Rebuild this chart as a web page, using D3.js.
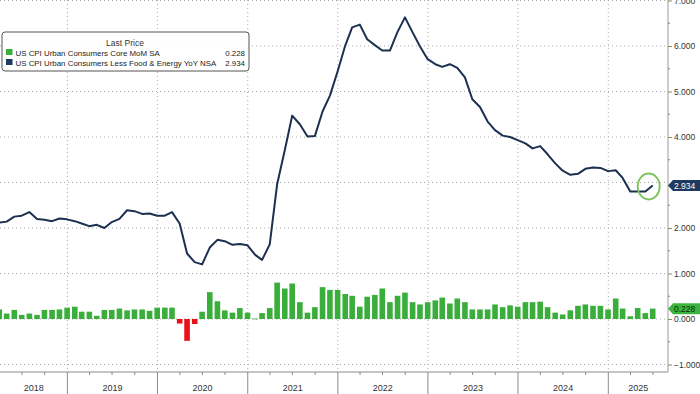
<!DOCTYPE html>
<html><head><meta charset="utf-8">
<script src="https://cdn.jsdelivr.net/npm/d3@7"></script>
<style>
body{margin:0;background:#fff}
svg{display:block;font-family:"Liberation Sans",Arial,sans-serif}
</style>
</head><body>
<svg id="chart" width="700" height="394"></svg>
<script>
// ---------- DATA ----------
const startMonth = "2018-01"; // monthly observations, plotted at month end
const coreYoY = [
  1.78, 1.83, 2.12, 2.14, 2.25, 2.27, 2.35, 2.20, 2.18, 2.15, 2.21, 2.19,
  2.15, 2.10, 2.04, 2.07, 2.00, 2.13, 2.20, 2.39, 2.37, 2.31, 2.32, 2.27,
  2.27, 2.35, 2.10, 1.44, 1.25, 1.20, 1.57, 1.74, 1.71, 1.63, 1.65, 1.62,
  1.41, 1.30, 1.64, 2.96, 3.71, 4.47, 4.28, 4.01, 4.02, 4.56, 4.91, 5.44,
  6.01, 6.41, 6.47, 6.15, 6.02, 5.90, 5.90, 6.31, 6.63, 6.30, 5.99, 5.71,
  5.60, 5.54, 5.60, 5.52, 5.31, 4.83, 4.66, 4.34, 4.15, 4.03, 4.00, 3.93,
  3.86, 3.75, 3.80, 3.62, 3.42, 3.26, 3.17, 3.19, 3.30, 3.33, 3.32, 3.25,
  3.27, 3.10, 2.80, 2.80, 2.80, 2.934
];
const coreMoM = [
  0.30, 0.18, 0.21, 0.12, 0.20, 0.09, 0.12, 0.09, 0.20, 0.20, 0.21, 0.25,
  0.27, 0.16, 0.16, 0.07, 0.20, 0.20, 0.23, 0.19, 0.21, 0.21, 0.18, 0.25,
  0.25, 0.25, -0.10, -0.48, -0.11, 0.16, 0.59, 0.39, 0.19, 0.14, 0.24, 0.14,
  0.01, 0.13, 0.24, 0.80, 0.67, 0.78, 0.37, 0.14, 0.26, 0.70, 0.64, 0.64,
  0.55, 0.51, 0.27, 0.49, 0.53, 0.67, 0.37, 0.51, 0.58, 0.37, 0.32, 0.37,
  0.41, 0.47, 0.34, 0.45, 0.37, 0.21, 0.21, 0.21, 0.32, 0.26, 0.30, 0.27,
  0.37, 0.37, 0.38, 0.26, 0.14, 0.10, 0.19, 0.29, 0.32, 0.29, 0.29, 0.21,
  0.45, 0.23, 0.06, 0.24, 0.13, 0.228
];
const yTicks = [-1, 0, 1, 2, 3, 4, 5, 6, 7];
const yearLabels = ["2018", "2019", "2020", "2021", "2022", "2023", "2024", "2025"];
const legendTitle = "Last Price";
const seriesNames = ["US CPI Urban Consumers Core MoM SA", "US CPI Urban Consumers Less Food & Energy YoY NSA"];
const lastLabels = ["0.228", "2.934"];

// ---------- STYLE ----------
const GREEN = "#3aae3a", RED = "#e8101a", NAVY = "#1c3050", GRID = "#a9a9a9";
const plotL = 0, plotR = 668, plotT = 0, plotB = 372;

const svg = d3.select("#chart");
const parse = d3.timeParse("%Y-%m");
const t0 = parse(startMonth);
const dates = coreYoY.map((_, i) => new Date(t0.getFullYear(), t0.getMonth() + i + 1, 0));

const x = d3.scaleTime()
  .domain([new Date(2018, 0, 1), new Date(2025, 0, 1)])
  .range([-22.7, 608.3]);
const y = d3.scaleLinear().domain([-1, 7]).range([364.5, 0.5]);

svg.append("defs").append("clipPath").attr("id", "clip")
  .append("rect").attr("x", plotL).attr("y", plotT).attr("width", plotR - plotL).attr("height", plotB - plotT);

// grid
const grid = svg.append("g");
grid.selectAll("line.h").data(yTicks).join("line")
  .attr("x1", plotL).attr("x2", plotR)
  .attr("y1", d => y(d)).attr("y2", d => y(d))
  .attr("stroke", GRID).attr("stroke-width", 1).attr("stroke-dasharray", "1,3");
const yearStarts = yearLabels.map(s => parse(s + "-01")).filter(d => x(d) > plotL + 1);
grid.selectAll("line.v").data(yearStarts).join("line")
  .attr("x1", d => x(d)).attr("x2", d => x(d))
  .attr("y1", plotT).attr("y2", plotB)
  .attr("stroke", GRID).attr("stroke-width", 1).attr("stroke-dasharray", "1,3");

// bars
const plot = svg.append("g").attr("clip-path", "url(#clip)");
const bw = 5.6;
plot.selectAll("rect.bar").data(coreMoM).join("rect")
  .attr("x", (d, i) => x(dates[i]) - bw / 2)
  .attr("width", bw)
  .attr("y", d => y(Math.max(0, d)))
  .attr("height", d => Math.max(0.8, Math.abs(y(d) - y(0))))
  .attr("fill", d => d < 0 ? RED : GREEN);

// line
plot.append("path").datum(coreYoY)
  .attr("fill", "none").attr("stroke", NAVY).attr("stroke-width", 2)
  .attr("stroke-linejoin", "round")
  .attr("d", d3.line().x((d, i) => x(dates[i])).y(d => y(d)));

// highlight circle on last point
const li = coreYoY.length - 1;
svg.append("ellipse")
  .attr("cx", x(dates[li]) - 4).attr("cy", y(coreYoY[li]) + 1)
  .attr("rx", 11).attr("ry", 13)
  .attr("fill", "none").attr("stroke", "#7cc25a").attr("stroke-width", 1.8);

// bottom axis
const xa = svg.append("g");
xa.append("line").attr("x1", plotL).attr("x2", plotR).attr("y1", plotB).attr("y2", plotB)
  .attr("stroke", "#8a8a8a").attr("stroke-width", 1);
const quarters = d3.timeMonth.every(3).range(new Date(2017, 0, 1), new Date(2025, 9, 1))
  .filter(d => x(d) > plotL && x(d) < plotR);
xa.selectAll("line.q").data(quarters).join("line")
  .attr("x1", d => x(d)).attr("x2", d => x(d))
  .attr("y1", plotB).attr("y2", d => d.getMonth() === 0 ? 394 : plotB + 3)
  .attr("stroke", "#8a8a8a").attr("stroke-width", 1);
xa.selectAll("text").data(yearLabels).join("text")
  .attr("x", d => {
    const a = Math.max(plotL, x(parse(d + "-01")));
    const b = Math.min(plotR, x(parse((+d + 1) + "-01")));
    return (a + b) / 2;
  })
  .attr("y", 391).attr("text-anchor", "middle")
  .attr("font-size", 9).attr("fill", "#333").text(d => d);

// last value tag positions (tick labels underneath a tag are hidden, as in the source)
const tagYs = [y(coreYoY[li]), y(coreMoM[li])];

// right axis
const ya = svg.append("g").attr("transform", `translate(${plotR},0)`);
ya.call(d3.axisRight(y).tickValues(yTicks.filter(v => tagYs.every(t => Math.abs(y(v) - t) > 6)))
  .tickFormat(d3.format(".3f")).tickSize(4).tickPadding(2));
ya.select(".domain").attr("stroke", "#9a9a9a").attr("d", `M0,${plotT}V${plotB}`);
ya.selectAll(".tick line").attr("stroke", "#6a9a5a");
ya.selectAll(".tick text").attr("font-size", 8.5).attr("fill", "#333")
  .attr("font-family", "Liberation Sans, Arial, sans-serif");
ya.selectAll("line.minor").data(yTicks.slice(0, -1).map(d => d + 0.5)).join("line")
  .attr("x1", 0).attr("x2", 2).attr("y1", d => y(d)).attr("y2", d => y(d))
  .attr("stroke", "#6a9a5a");

// last value tags
function tag(val, label, fill, txt) {
  const cy = y(val);
  svg.append("path")
    .attr("d", `M${plotR},${cy}L${plotR + 5},${cy - 5.5}H700V${cy + 5.5}H${plotR + 5}Z`)
    .attr("fill", fill);
  svg.append("text").attr("x", plotR + 6).attr("y", cy + 3.2)
    .attr("font-size", 8.5).attr("fill", txt).text(label);
}
tag(coreYoY[li], lastLabels[1], "#1f3a60", "#fff");
tag(coreMoM[li], lastLabels[0], "#3cb33c", "#0e2a0e");

// legend
const lg = svg.append("g");
lg.append("rect").attr("x", 2).attr("y", 32).attr("width", 247).attr("height", 39)
  .attr("rx", 3).attr("fill", "#fff").attr("fill-opacity", 0.9)
  .attr("stroke", "#555").attr("stroke-width", 1);
lg.append("text").attr("x", 125).attr("y", 45.5).attr("text-anchor", "middle")
  .attr("font-size", 8.5).attr("fill", "#333").text(legendTitle);
const colors = [GREEN, "#1f3a60"];
seriesNames.forEach((n, i) => {
  const yy = 55.5 + i * 10;
  lg.append("rect").attr("x", 6).attr("y", yy - 6.5).attr("width", 6.5).attr("height", 6)
    .attr("fill", colors[i]);
  lg.append("text").attr("x", 15.5).attr("y", yy).attr("font-size", 7.9).attr("fill", "#222").text(n);
  lg.append("text").attr("x", 245).attr("y", yy).attr("text-anchor", "end")
    .attr("font-size", 7.9).attr("fill", "#222").text(lastLabels[i]);
});
</script>
</body></html>
